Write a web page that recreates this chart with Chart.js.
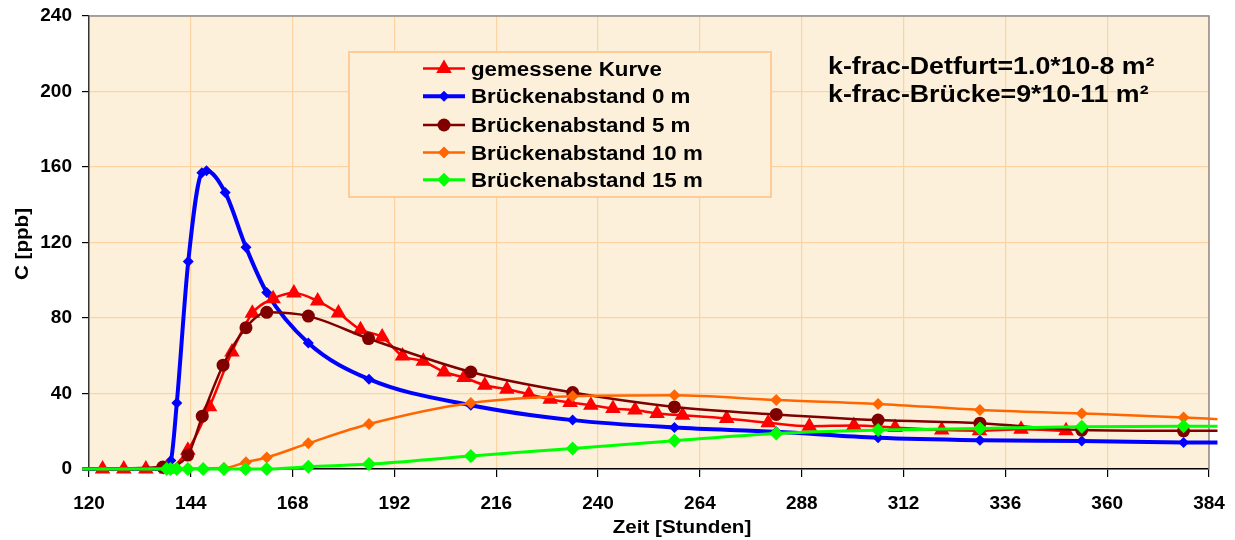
<!DOCTYPE html>
<html>
<head>
<meta charset="utf-8">
<script src="https://cdn.jsdelivr.net/npm/chart.js@4/dist/chart.umd.min.js"></script>
<style>
  html, body { margin: 0; padding: 0; background: #ffffff; }
  #wrap { width: 1235px; height: 540px; }
</style>
</head>
<body>
<div id="wrap"><canvas id="c" width="1235" height="540"></canvas></div>
<script>
// Axis ticks
const xTicks = [120, 144, 168, 192, 216, 240, 264, 288, 312, 336, 360, 384];
const yTicks = [0, 40, 80, 120, 160, 200, 240];

// Measured breakthrough curve
const measuredX = [123.2, 128.2, 133.4, 138.3, 143.3, 148.4, 153.7, 158.5, 163.4, 168.3, 173.9, 178.8, 184.0, 189.1, 193.9, 198.8, 203.7, 208.4, 213.3, 218.5, 223.7, 228.7, 233.4, 238.3, 243.5, 248.7, 253.9, 259.9, 270.3, 280.1, 289.8, 300.3, 310.0, 321.0, 329.9, 339.7, 350.3];
const measuredY = [0, 0, 0, 0, 10, 33, 62, 82.5, 90.2, 93.2, 89, 82.6, 73.8, 69.9, 59.9, 57.1, 51.4, 48.5, 44.4, 42.3, 39.6, 37, 35.2, 33.8, 32.1, 31.2, 29.4, 28.5, 26.8, 24.5, 22.7, 23.1, 22, 20.6, 20.2, 21, 20.3];

// Simulated curves (bridge distance 0, 5, 10, 15 m)
const dist0X = [118.4, 137.5, 139.3, 140.7, 143.4, 146.6, 147.7, 152.1, 157.0, 161.9, 171.7, 186, 210, 234, 258, 282, 306, 330, 354, 378, 386];
const dist0Y = [0, 0, 4.5, 35, 110, 157, 158, 146.5, 117.5, 93.5, 66.8, 47.6, 33.8, 25.9, 22, 19.7, 16.5, 15.2, 14.8, 14.1, 14];

const dist5X = [118.4, 137.4, 143.3, 146.7, 151.6, 157.0, 161.9, 171.7, 185.9, 210, 234, 258, 282, 306, 330, 354, 378, 386];
const dist5Y = [0, 1, 7.4, 28, 55, 74.9, 83, 81, 69.1, 51.4, 40.5, 32.9, 28.9, 25.9, 24.3, 20.6, 20.2, 20.2];

const dist10X = [118.4, 151.8, 157.0, 161.9, 171.7, 186, 210, 234, 258, 282, 306, 330, 354, 378, 386];
const dist10Y = [0, 0.5, 3.6, 6.1, 13.6, 23.8, 35, 38.6, 39.1, 36.5, 34.5, 31.3, 29.4, 27.3, 26.4];

const dist15X = [118.4, 138.3, 139.2, 140.7, 143.3, 146.9, 151.8, 156.9, 161.9, 171.7, 186, 210, 234, 258, 282, 306, 330, 354, 378, 386];
const dist15Y = [0, 0, 0, 0, 0, 0, 0, 0, 0, 1.2, 2.6, 6.9, 10.9, 15, 18.8, 20.6, 21.5, 22.4, 22.7, 22.7];

const seriesLabels = ['gemessene Kurve', 'Brückenabstand 0 m', 'Brückenabstand 5 m', 'Brückenabstand 10 m', 'Brückenabstand 15 m'];
const noteLines = ['k-frac-Detfurt=1.0*10-8 m²', 'k-frac-Brücke=9*10-11 m²'];
const xTitle = 'Zeit [Stunden]';
const yTitle = 'C [ppb]';

const PAPER = '#FCF0DA';
const GRID = '#FDD3A3';
const FONT = '"Liberation Sans", Arial, sans-serif';
const SX = 1.115; // horizontal stretch of the drawn labels

function pts(xs, ys) { return xs.map((x, i) => ({ x: x, y: ys[i] })); }
// line ends outside the axis range carry no marker
function endless(r) {
  return ctx => {
    const x = ctx.raw ? ctx.raw.x : 0;
    return (x < 120 || x > 384) ? 0 : r;
  };
}

const styles = [
  { color: '#FF0000', width: 2.5, shape: 'triangle', r: 9 },
  { color: '#0000FF', width: 4,   shape: 'rectRot',  r: 5.5 },
  { color: '#800000', width: 2.5, shape: 'circle',   r: 6.5 },
  { color: '#FF6600', width: 2.5, shape: 'rectRot',  r: 6 },
  { color: '#00FF00', width: 3,   shape: 'rectRot',  r: 7 }
];
const seriesData = [pts(measuredX, measuredY), pts(dist0X, dist0Y), pts(dist5X, dist5Y), pts(dist10X, dist10Y), pts(dist15X, dist15Y)];
const drawOrder = [3, 4, 2, 1, 0];

const datasets = seriesData.map((d, i) => ({
  label: seriesLabels[i],
  data: d,
  borderColor: styles[i].color,
  backgroundColor: styles[i].color,
  borderWidth: styles[i].width,
  pointStyle: styles[i].shape,
  pointRadius: endless(styles[i].r),
  pointBorderWidth: 0,
  pointBackgroundColor: styles[i].color,
  tension: 0.4,
  cubicInterpolationMode: 'monotone',
  clip: false,
  order: drawOrder[i]
}));

function stretchedText(ctx, text, x, y, px, align, rot) {
  ctx.save();
  ctx.font = 'bold ' + px + 'px ' + FONT;
  ctx.textBaseline = 'alphabetic';
  ctx.textAlign = align || 'left';
  ctx.fillStyle = '#000000';
  ctx.translate(x, y);
  if (rot) ctx.rotate(rot);
  ctx.scale(SX, 1);
  ctx.fillText(text, 0, 0);
  ctx.restore();
}

function marker(ctx, shape, x, y, r, color) {
  ctx.save();
  ctx.fillStyle = color;
  ctx.beginPath();
  if (shape === 'circle') {
    ctx.arc(x, y, r, 0, Math.PI * 2);
  } else if (shape === 'triangle') {
    for (let k = 0; k < 3; k++) {
      const a = k * 2 * Math.PI / 3;
      const px = x + Math.sin(a) * r, py = y - Math.cos(a) * r;
      if (k === 0) ctx.moveTo(px, py); else ctx.lineTo(px, py);
    }
    ctx.closePath();
  } else {
    ctx.moveTo(x - r, y); ctx.lineTo(x, y - r); ctx.lineTo(x + r, y); ctx.lineTo(x, y + r);
    ctx.closePath();
  }
  ctx.fill();
  ctx.restore();
}

const paperPlugin = {
  id: 'paper',
  beforeDraw(chart) {
    const { ctx, chartArea: a } = chart;
    ctx.save();
    ctx.fillStyle = '#ffffff';
    ctx.fillRect(0, 0, chart.width, chart.height);
    ctx.fillStyle = PAPER;
    ctx.fillRect(a.left, a.top, a.right - a.left, a.bottom - a.top);
    ctx.restore();
  },
  beforeDatasetsDraw(chart) {
    const { ctx, chartArea: a } = chart;
    ctx.save();
    ctx.strokeStyle = '#8C8C8C';
    ctx.lineWidth = 1.5;
    ctx.beginPath();
    ctx.moveTo(a.left, a.top);
    ctx.lineTo(a.right, a.top);
    ctx.lineTo(a.right, a.bottom);
    ctx.stroke();
    ctx.restore();
  },
  afterDatasetsDraw(chart) {
    const ctx = chart.ctx;
    // legend box
    const bx = 349, by = 52, bw = 422, bh = 145;
    ctx.save();
    ctx.fillStyle = PAPER;
    ctx.fillRect(bx, by, bw, bh);
    ctx.strokeStyle = '#FFCC99';
    ctx.lineWidth = 2;
    ctx.strokeRect(bx, by, bw, bh);
    ctx.restore();
    const baselines = [75.5, 103.3, 132, 159.5, 186.7];
    seriesLabels.forEach((lab, i) => {
      const yl = baselines[i] - 7;
      const s = styles[i];
      ctx.save();
      ctx.strokeStyle = s.color;
      ctx.lineWidth = s.width;
      ctx.beginPath();
      ctx.moveTo(423, yl);
      ctx.lineTo(465, yl);
      ctx.stroke();
      ctx.restore();
      marker(ctx, s.shape, 444, yl, s.r, s.color);
      stretchedText(ctx, lab, 471, baselines[i], 20);
    });
    // parameter notes
    stretchedText(ctx, noteLines[0], 828, 74.3, 24);
    stretchedText(ctx, noteLines[1], 828, 102.3, 24);
    // axis titles
    stretchedText(ctx, xTitle, 682, 533, 18.5, 'center');
    stretchedText(ctx, yTitle, 28, 244, 18.5, 'center', -Math.PI / 2);
  }
};

new Chart(document.getElementById('c'), {
  type: 'line',
  data: { datasets: datasets },
  options: {
    responsive: false,
    animation: false,
    layout: { padding: { left: 0, right: 26, top: 16, bottom: 0 } },
    plugins: { legend: { display: false }, tooltip: { enabled: false } },
    scales: {
      x: {
        type: 'linear',
        min: 120, max: 384,
        afterBuildTicks: s => { s.ticks = xTicks.map(v => ({ value: v })); },
        afterFit: s => { s.height = 71; s.paddingLeft = 0; s.paddingRight = 0; },
        grid: { color: GRID, lineWidth: 1.2, tickColor: '#000000', tickLength: 8, drawTicks: true },
        border: { color: '#000000', width: 1.5 },
        ticks: { color: '#000000', font: { family: FONT, size: 19, weight: 'bold' }, padding: 15, maxRotation: 0 }
      },
      y: {
        type: 'linear',
        min: 0, max: 240,
        afterBuildTicks: s => { s.ticks = yTicks.map(v => ({ value: v })); },
        afterFit: s => { s.width = 89; s.paddingTop = 0; s.paddingBottom = 0; },
        grid: { color: GRID, lineWidth: 1.2, tickColor: '#000000', tickLength: 7 },
        border: { color: '#333333', width: 1.5 },
        ticks: { color: '#000000', font: { family: FONT, size: 19, weight: 'bold' }, padding: 10 }
      }
    }
  },
  plugins: [paperPlugin]
});
</script>
</body>
</html>
